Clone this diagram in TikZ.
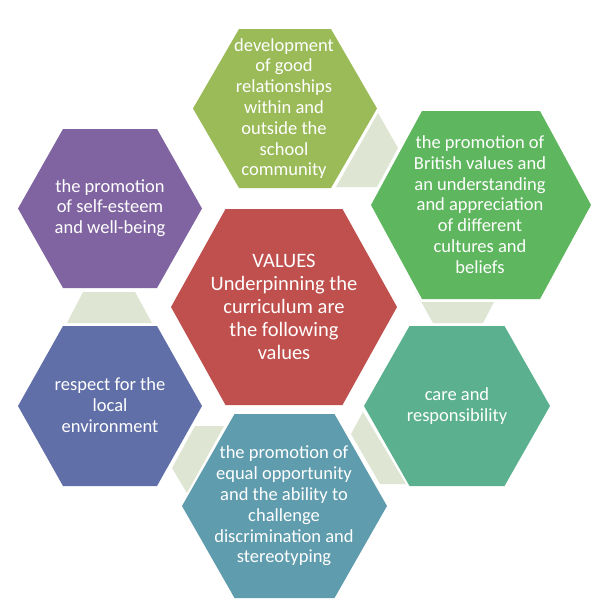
\documentclass[tikz,border=0pt]{standalone}
\usepackage{fontspec}
\setmainfont{Carlito}
\definecolor{cOlive}{HTML}{9BBB59}
\definecolor{cGreen}{HTML}{5EB65E}
\definecolor{cCare}{HTML}{5BB18F}
\definecolor{cTeal}{HTML}{5F9CAD}
\definecolor{cBlue}{HTML}{616FA8}
\definecolor{cPurple}{HTML}{8064A1}
\definecolor{cRed}{HTML}{C0504D}
\definecolor{cConn}{HTML}{DEE6D3}
\newcommand\hexfill[6]{%
  \fill[#6] (#1-#3,#2) -- (#1-#4,#2-#5) -- (#1+#4,#2-#5) -- (#1+#3,#2) -- (#1+#4,#2+#5) -- (#1-#4,#2+#5) -- cycle;}
\begin{document}
\begin{tikzpicture}[x=1pt,y=-1pt,
  outertext/.style={text=white,align=center,inner sep=0pt,font=\fontsize{18.5}{20.8}\selectfont},
  centertext/.style={text=white,align=center,inner sep=0pt,font=\fontsize{20.5}{23}\selectfont},
  conn/.style={fill=cConn}]
\useasboundingbox[fill=white] (0,0) rectangle (612,611);
% connectors
\fill[conn] (378,113) -- (398,148) -- (377,187) -- (336,187) -- cycle;
\fill[conn] (414,289) -- (421,302) -- (494,302) -- (483,323) -- (433,323) -- cycle;
\fill[conn] (363,412) -- (406,484) -- (380,484) -- (351,434) -- cycle;
\fill[conn] (195,426) -- (224,426) -- (187,493) -- (172,468) -- cycle;
\fill[conn] (83,292) -- (135,292) -- (152,323) -- (67,323) -- cycle;
% hexagons
\hexfill{285}{108.5}{92}{46}{79.5}{cOlive}
\hexfill{481}{205}{110}{59}{94}{cGreen}
\hexfill{457}{406}{93}{47.5}{80}{cCare}
\hexfill{284.5}{506}{102.5}{50}{92}{cTeal}
\hexfill{110}{406}{92}{47}{80}{cBlue}
\hexfill{110}{208.5}{92}{47}{79.5}{cPurple}
\hexfill{284}{307}{113}{58.5}{98}{cRed}
% texts
\node[outertext] (tOlive) at (284,108.5) {development\\of good\\relationships\\within and\\outside the\\school\\community};
\node[outertext] (tGreen) at (480,204.5) {the promotion of\\British values and\\an understanding\\and appreciation\\of different\\cultures and\\beliefs};
\node[outertext] (tCare) at (457,406) {care and\\responsibility};
\node[outertext] (tTeal) at (284,506) {the promotion of\\equal opportunity\\and the ability to\\challenge\\discrimination and\\stereotyping};
\node[outertext] (tBlue) at (110,405) {respect for the\\local\\environment};
\node[outertext] (tPurple) at (110,208) {the promotion\\of self-esteem\\and well-being};
\node[centertext] (tRed) at (284,307) {VALUES\\Underpinning the\\curriculum are\\the following\\values};
\end{tikzpicture}
\end{document}
